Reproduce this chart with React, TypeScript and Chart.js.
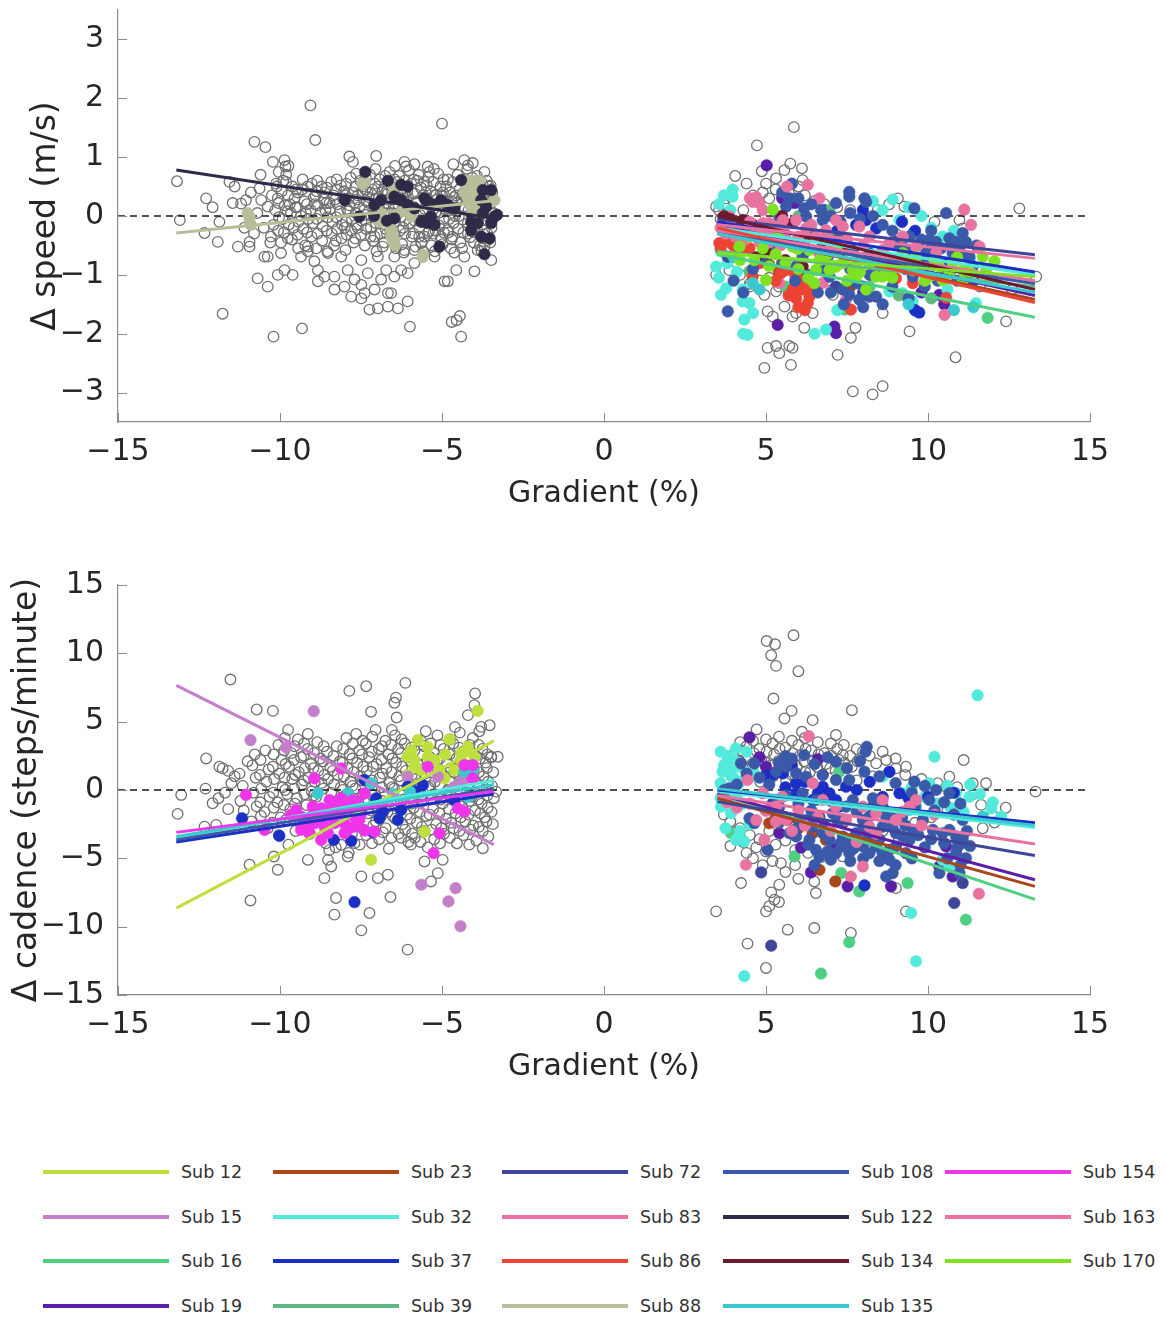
import React, { useEffect, useRef } from "react";
import { Chart, registerables } from "chart.js";

Chart.register(...registerables);

const FONT = "'DejaVu Sans', sans-serif";

const subjectIds = ["12", "15", "16", "19", "23", "32", "37", "39", "72", "83", "86", "88", "108", "122", "134", "135", "154", "163", "170"];
const subjectColors = ["#bde03f", "#c47fca", "#4fcf82", "#5a1ea8", "#a9461c", "#52eada", "#1b2fc4", "#62b883", "#3d4699", "#ec70a4", "#ec4434", "#b6bf99", "#3a59a8", "#2f2a48", "#6c1a2e", "#3ac9cf", "#ef35ea", "#e873a0", "#7ee222"];

const gradientTicks = [-15, -10, -5, 0, 5, 10, 15];
const speedTicks = [-3, -2, -1, 0, 1, 2, 3];
const cadenceTicks = [-15, -10, -5, 0, 5, 10, 15];
const downhillFitRange = [-13.2, -3.4];
const uphillFitRange = [3.5, 13.3];

// ---------- Δ speed: all runners (open circles) ----------
const speedGrey: [number, number][] = [
  [-9.06, 1.88], [-5.0, 1.57], [-8.91, 1.29], [-10.79, 1.26], [-10.45, 1.17], [-13.18, 0.59], [-13.09, -0.07], [-11.77, -1.66], [-10.2, -2.05], [-9.32, -1.91], [-4.41, -2.05], [-5.99, -1.88], [-4.7, -1.8], [-4.55, -1.77], [-4.45, -1.7],
  [-9.86, 0.95], [-9.83, 0.84], [-10.22, 0.92], [-7.86, 1.01], [-7.03, 1.02], [-7.75, 0.92], [-6.16, 0.92], [-6.11, 0.84], [-4.31, 0.95], [-4.2, 0.86], [-5.44, 0.84], [-5.39, 0.75], [-3.69, 0.75],
  [-12.28, 0.3], [-12.08, 0.15], [-11.56, 0.58], [-11.46, 0.22], [-11.87, -0.1], [-12.33, -0.29], [-11.92, -0.44], [-11.2, 0.21], [-11.05, 0.27], [-10.94, -0.44], [-10.94, -0.52], [-11.3, -0.52], [-10.63, 0.47], [-10.58, 0.27], [-10.38, 0.16], [-10.48, -0.69], [-10.07, 0.3], [-10.12, 0.55], [-9.81, 0.7], [-9.81, 0.58],
  [-10.38, -0.69], [-9.97, -0.63], [-9.86, -0.92], [-9.61, -1.0], [-10.07, -1.0], [-10.69, -1.06], [-10.38, -1.2], [-9.35, -0.69], [-9.14, -0.52], [-8.94, -0.77], [-8.83, -0.92], [-8.63, -1.03], [-8.32, -1.03], [-8.52, -0.63], [-8.11, -0.69], [-7.91, -0.92], [-7.7, -1.08], [-7.49, -1.17], [-7.39, -1.31], [-7.08, -1.25], [-6.88, -1.08], [-6.72, -0.92], [-6.57, -1.31], [-6.47, -1.03], [-6.26, -0.92], [-6.06, -0.97], [-5.85, -0.8], [-8.83, -1.11], [-8.32, -1.25], [-8.01, -1.2], [-7.8, -1.37], [-7.49, -1.4], [-7.24, -1.59], [-6.98, -1.57], [-6.67, -1.54], [-6.36, -1.57], [-6.06, -1.45], [-6.67, -1.31], [-7.29, -0.97], [-7.49, -0.75], [-6.98, -0.69], [-6.47, -0.69], [-6.16, -0.58], [-5.85, -0.58], [-5.64, -0.46], [-5.23, -0.69], [-4.92, -1.11], [-4.82, -1.11], [-4.56, -0.92], [-4.0, -0.94], [-4.31, -0.69], [-3.9, -0.58], [-3.48, -0.75], [-5.03, -0.35], [-5.44, -0.29], [-4.82, -0.24], [-3.69, -0.52], [-3.59, -0.41],
  [-10.25, 0.35], [-10.15, 0.1], [-10.2, -0.15], [-10.28, -0.35], [-10.1, 0.5],
  [-9.95, 0.42], [-9.85, 0.18], [-9.92, -0.05], [-9.88, -0.28], [-9.97, -0.45], [-9.9, 0.6],
  [-9.62, 0.5], [-9.55, 0.3], [-9.66, 0.05], [-9.58, -0.2], [-9.63, -0.4], [-9.52, 0.15],
  [-9.32, 0.45], [-9.25, 0.25], [-9.35, 0.0], [-9.28, -0.22], [-9.22, -0.5], [-9.3, 0.62],
  [-9.02, 0.55], [-8.95, 0.32], [-9.05, 0.1], [-8.98, -0.12], [-9.03, -0.35], [-8.92, 0.2],
  [-8.72, 0.5], [-8.65, 0.28], [-8.75, 0.05], [-8.68, -0.18], [-8.7, -0.42], [-8.62, 0.4],
  [-8.42, 0.58], [-8.35, 0.35], [-8.45, 0.12], [-8.38, -0.1], [-8.4, -0.3], [-8.33, -0.5], [-8.47, 0.22],
  [-8.12, 0.52], [-8.05, 0.3], [-8.15, 0.08], [-8.08, -0.15], [-8.1, -0.38], [-8.02, 0.42],
  [-7.82, 0.65], [-7.75, 0.4], [-7.85, 0.18], [-7.78, -0.05], [-7.8, -0.25], [-7.73, -0.45], [-7.88, 0.3],
  [-7.52, 0.6], [-7.45, 0.38], [-7.55, 0.15], [-7.48, -0.08], [-7.5, -0.32], [-7.43, 0.5],
  [-7.22, 0.7], [-7.15, 0.45], [-7.25, 0.22], [-7.18, 0.0], [-7.2, -0.2], [-7.13, -0.42], [-7.27, 0.32],
  [-6.92, 0.62], [-6.85, 0.4], [-6.95, 0.16], [-6.88, -0.06], [-6.9, -0.3], [-6.83, -0.52], [-6.97, 0.5],
  [-6.62, 0.75], [-6.55, 0.5], [-6.65, 0.28], [-6.58, 0.05], [-6.6, -0.15], [-6.53, -0.38], [-6.67, 0.38],
  [-6.32, 0.68], [-6.25, 0.45], [-6.35, 0.2], [-6.28, -0.02], [-6.3, -0.25], [-6.23, -0.48], [-6.37, 0.58],
  [-6.02, 0.78], [-5.95, 0.55], [-6.05, 0.32], [-5.98, 0.1], [-6.0, -0.12], [-5.93, -0.35], [-6.07, 0.42],
  [-5.72, 0.7], [-5.65, 0.48], [-5.75, 0.25], [-5.68, 0.02], [-5.7, -0.2], [-5.63, -0.45], [-5.77, 0.6],
  [-5.42, 0.66], [-5.35, 0.42], [-5.45, 0.2], [-5.38, -0.04], [-5.4, -0.26], [-5.33, -0.5], [-5.47, 0.52],
  [-5.12, 0.72], [-5.05, 0.5], [-5.15, 0.28], [-5.08, 0.06], [-5.1, -0.16], [-5.03, -0.4], [-5.17, 0.36],
  [-4.82, 0.62], [-4.75, 0.4], [-4.85, 0.18], [-4.78, -0.05], [-4.8, -0.28], [-4.73, -0.55], [-4.87, 0.5],
  [-4.52, 0.7], [-4.45, 0.46], [-4.55, 0.22], [-4.48, 0.0], [-4.5, -0.22], [-4.43, -0.45], [-4.57, 0.35],
  [-4.22, 0.8], [-4.15, 0.56], [-4.25, 0.32], [-4.18, 0.1], [-4.2, -0.12], [-4.13, -0.36], [-4.27, 0.45],
  [-3.92, 0.68], [-3.85, 0.44], [-3.95, 0.2], [-3.88, -0.03], [-3.9, -0.25], [-3.83, -0.5], [-3.97, 0.55],
  [-3.62, 0.6], [-3.55, 0.36], [-3.65, 0.14], [-3.58, -0.08], [-3.6, -0.3], [-3.67, 0.25],
  [-3.45, 0.4], [-3.42, 0.05], [-3.47, -0.2],
  [-10.05, 0.22], [-10.03, -0.02], [-10.06, -0.25], [-10.04, 0.75],
  [-9.75, 0.35], [-9.77, 0.08], [-9.73, -0.15], [-9.76, -0.38], [-9.74, 0.85],
  [-9.45, 0.4], [-9.47, 0.15], [-9.43, -0.1], [-9.46, -0.32], [-9.44, -0.55],
  [-9.15, 0.5], [-9.17, 0.2], [-9.13, -0.05], [-9.16, -0.28], [-9.14, -0.6],
  [-8.85, 0.6], [-8.87, 0.42], [-8.83, 0.18], [-8.86, -0.05], [-8.84, -0.3], [-8.88, -0.55],
  [-8.55, 0.48], [-8.57, 0.22], [-8.53, -0.02], [-8.56, -0.25], [-8.54, -0.6],
  [-8.25, 0.62], [-8.27, 0.45], [-8.23, 0.2], [-8.26, -0.02], [-8.24, -0.22], [-8.28, -0.42],
  [-7.95, 0.55], [-7.97, 0.35], [-7.93, 0.12], [-7.96, -0.1], [-7.94, -0.32], [-7.98, -0.58],
  [-7.65, 0.72], [-7.67, 0.5], [-7.63, 0.28], [-7.66, 0.05], [-7.64, -0.15], [-7.68, -0.38],
  [-7.35, 0.65], [-7.37, 0.45], [-7.33, 0.25], [-7.36, 0.02], [-7.34, -0.22], [-7.38, -0.5],
  [-7.05, 0.8], [-7.07, 0.55], [-7.03, 0.3], [-7.06, 0.1], [-7.04, -0.12], [-7.08, -0.35], [-7.02, -0.6],
  [-6.75, 0.68], [-6.77, 0.45], [-6.73, 0.22], [-6.76, 0.0], [-6.74, -0.22], [-6.78, -0.45],
  [-6.45, 0.85], [-6.47, 0.62], [-6.43, 0.35], [-6.46, 0.12], [-6.44, -0.1], [-6.48, -0.32], [-6.42, -0.55],
  [-6.15, 0.6], [-6.17, 0.38], [-6.13, 0.15], [-6.16, -0.08], [-6.14, -0.3], [-6.18, -0.62],
  [-5.85, 0.88], [-5.87, 0.62], [-5.83, 0.38], [-5.86, 0.15], [-5.84, -0.08], [-5.88, -0.3], [-5.82, -0.52],
  [-5.55, 0.58], [-5.57, 0.35], [-5.53, 0.12], [-5.56, -0.1], [-5.54, -0.35], [-5.58, -0.6],
  [-5.25, 0.8], [-5.27, 0.58], [-5.23, 0.35], [-5.26, 0.12], [-5.24, -0.08], [-5.28, -0.3], [-5.22, -0.6],
  [-4.95, 0.62], [-4.97, 0.4], [-4.93, 0.18], [-4.96, -0.05], [-4.94, -0.28], [-4.98, -0.48],
  [-4.65, 0.88], [-4.67, 0.58], [-4.63, 0.32], [-4.66, 0.1], [-4.64, -0.12], [-4.68, -0.35], [-4.62, -0.62],
  [-4.35, 0.62], [-4.37, 0.38], [-4.33, 0.16], [-4.36, -0.06], [-4.34, -0.28], [-4.38, -0.55],
  [-4.05, 0.9], [-4.07, 0.65], [-4.03, 0.4], [-4.06, 0.18], [-4.04, -0.04], [-4.08, -0.26], [-4.02, -0.45],
  [-3.75, 0.55], [-3.77, 0.3], [-3.73, 0.08], [-3.76, -0.15], [-3.74, -0.38], [-3.78, -0.6],
  [-3.5, 0.52], [-3.52, 0.2], [-3.48, -0.1], [-3.51, -0.45],
  [-10.9, 0.4], [-10.7, 0.05], [-10.5, -0.2], [-10.8, -0.3], [-11.1, -0.2], [-10.6, 0.7], [-11.4, 0.5], [-10.3, -0.45],
  [-7.9, 0.08], [-7.7, 0.22], [-7.6, 0.35], [-7.4, 0.1], [-7.3, 0.4], [-7.1, 0.18], [-6.95, 0.3], [-6.8, 0.05], [-6.7, 0.42], [-6.5, 0.2], [-6.4, 0.02], [-6.2, 0.3], [-6.1, 0.12], [-5.9, 0.38], [-5.8, 0.22], [-5.6, 0.1], [-5.5, 0.4], [-5.3, 0.2], [-5.2, 0.05], [-5.0, 0.35], [-4.9, 0.12], [-4.7, 0.25], [-4.6, 0.0], [-4.4, 0.3], [-4.3, 0.12], [-4.1, 0.42], [-3.95, 0.05], [-3.8, 0.3], [-3.7, 0.12], [-3.55, 0.5],
  [-8.3, 0.28], [-8.6, 0.1], [-8.9, 0.35], [-9.2, 0.05], [-9.5, 0.45], [-9.7, 0.2], [-8.0, -0.2], [-7.6, -0.2], [-7.2, -0.35], [-6.7, -0.3], [-6.2, -0.2], [-5.7, -0.35], [-5.2, -0.25], [-4.7, -0.4], [-4.2, -0.3], [-3.7, -0.25],
  [5.86, 1.51], [4.72, 1.2], [4.05, 0.68], [4.87, 0.76], [5.31, 0.64], [5.57, 0.78], [5.75, 0.89], [6.11, 0.81], [6.13, 0.61], [3.46, 0.16], [3.77, 0.3], [9.07, 0.3], [9.27, 0.16], [12.82, 0.13], [13.34, -1.03], [3.46, -1.0], [3.87, -0.92], [4.49, -1.2], [4.95, -1.34], [5.05, -1.62], [5.21, -1.71], [5.57, -1.54], [5.93, -1.65], [5.82, -1.71], [6.44, -1.65], [5.31, -1.28], [5.05, -2.24], [5.31, -2.21], [5.41, -2.33], [5.72, -2.21], [5.82, -2.24], [5.77, -2.53], [4.95, -2.58], [6.18, -1.9], [7.06, -1.34], [7.62, -2.07], [7.76, -1.9], [7.21, -2.36], [8.6, -1.65], [9.43, -1.96], [10.85, -2.4], [7.68, -2.98], [8.29, -3.03], [8.6, -2.89], [12.41, -1.79], [8.45, 0.1], [10.97, -0.07], [11.07, -0.21],
  [3.55, 0.1], [3.7, 0.2], [3.6, -0.05], [4.6, 0.35], [4.9, 0.4], [5.1, 0.3], [5.3, 0.45], [5.5, 0.35], [5.7, 0.4], [5.9, 0.3], [6.2, 0.35], [6.5, 0.25], [6.8, 0.2], [7.2, 0.15], [7.6, 0.1], [4.2, -1.0], [4.5, -1.15], [4.8, -1.1], [5.1, -1.05], [5.4, -1.2], [5.7, -1.3], [6.1, -1.15], [6.5, -1.25], [6.9, -1.1], [4.4, 0.55], [5.0, 0.55], [6.0, 0.5], [4.3, 0.1], [5.2, -0.6], [6.0, -0.8], [7.0, -0.5], [8.0, -0.6], [9.0, -0.3], [10.0, -0.9], [11.0, -1.0], [12.0, -1.1], [11.6, -1.2], [12.6, -1.25], [4.0, -0.5], [4.7, -0.3], [8.8, 0.2], [10.2, -0.1],
];

// ---------- Δ speed: highlighted runners [subject, gradient, value] ----------
const speedColored: [string, number, number][] = [
  ["88", -10.94, -0.01], ["88", -10.94, -0.1], ["88", -7.37, 0.58], ["88", -6.47, 0.47], ["88", -7.08, 0.02], ["88", -6.98, -0.07], ["88", -6.88, -0.1], ["88", -6.57, -0.24], ["88", -6.57, -0.35], ["88", -6.47, -0.41], ["88", -5.59, -0.66], ["88", -4.1, 0.44], ["88", -4.0, 0.38], ["88", -3.9, 0.5], ["88", -3.79, 0.3], ["88", -4.2, 0.3], ["88", -4.3, 0.4], ["88", -4.0, 0.25], ["88", -3.38, 0.27], ["88", -6.26, 0.07], ["88", -5.95, -0.01], ["88", -4.15, 0.55], ["88", -3.95, 0.15], ["88", -4.25, 0.5], ["88", -3.85, 0.6], ["88", -4.05, 0.1],
  ["88", -4.15, 0.2], ["88", -4.05, 0.35], ["88", -3.95, 0.45], ["88", -4.2, 0.6], ["88", -4.05, 0.6], ["88", -3.9, 0.35], ["88", -6.6, -0.15], ["88", -6.55, -0.3], ["88", -6.5, -0.45], ["88", -6.45, -0.5], ["88", -7.0, 0.1], ["88", -6.9, 0.05], ["88", -7.45, 0.55], ["88", -6.5, 0.35], ["88", -5.6, -0.7], ["88", -11.0, 0.05], ["88", -10.9, -0.15],
  ["122", -7.37, 0.75], ["122", -6.67, 0.6], ["122", -6.26, 0.53], ["122", -6.06, 0.5], ["122", -6.88, 0.27], ["122", -7.08, 0.19], ["122", -6.47, 0.33], ["122", -6.26, 0.27], ["122", -6.06, 0.19], ["122", -5.85, 0.13], ["122", -5.54, 0.3], ["122", -5.44, 0.24], ["122", -5.23, 0.19], ["122", -5.03, 0.27], ["122", -4.82, 0.19], ["122", -4.62, 0.13], ["122", -5.64, -0.1], ["122", -5.44, -0.12], ["122", -5.23, -0.15], ["122", -5.34, -0.01], ["122", -4.41, 0.61], ["122", -3.74, 0.44], ["122", -3.48, 0.44], ["122", -3.79, 0.27], ["122", -3.64, 0.16], ["122", -3.38, -0.01], ["122", -3.3, 0.02], ["122", -3.48, -0.12], ["122", -4.1, -0.24], ["122", -3.79, -0.35], ["122", -3.53, -0.38], ["122", -3.69, -0.65], ["122", -5.08, -0.52], ["122", -7.55, -0.01], ["122", -6.47, -0.04], ["122", -4.1, -0.1], ["122", -3.9, -0.12], ["122", -3.74, 0.05], ["122", -8.0, 0.27], ["122", -7.1, 0.0], ["122", -6.7, -0.08],
  ["108", 7.57, 0.41], ["108", 7.57, 0.33], ["108", 8.04, 0.3], ["108", 8.09, 0.24], ["108", 7.16, 0.22], ["108", 5.72, 0.3], ["108", 5.62, 0.16], ["108", 6.18, 0.13], ["108", 9.58, 0.13], ["108", 10.56, 0.05], ["108", 10.04, -0.41], ["108", 10.25, -0.44], ["108", 10.66, -0.38], ["108", 10.87, -0.44], ["108", 11.07, -0.29], ["108", 10.97, -0.52], ["108", 11.17, -0.44], ["108", 7.78, -1.14], ["108", 7.99, -1.2], ["108", 8.19, -1.37], ["108", 8.4, -1.37], ["108", 7.88, -1.42], ["108", 7.57, -1.34], ["108", 7.37, -1.25], ["108", 6.96, -1.03], ["108", 6.75, -0.92], ["108", 5.93, -0.86], ["108", 3.82, -1.62], ["108", 6.13, -0.69], ["108", 8.5, -0.92], ["108", 9.01, -0.75], ["108", 9.53, -1.03], ["108", 10.25, -0.75], ["108", 9.94, -0.63], ["108", 10.76, -0.63], ["108", 11.28, -0.69], ["108", 11.38, -0.86], ["108", 9.43, -0.35], ["108", 9.01, -0.46], ["108", 8.6, -0.63], ["108", 7.26, -0.35], ["108", 6.44, -0.29], ["108", 5.41, -0.01], ["108", 5.21, -0.18], ["108", 6.24, -0.01], ["108", 6.75, -0.07], ["108", 7.68, -0.58], ["108", 8.19, -0.63], ["108", 10.04, -0.58],
  ["108", 5.5, 0.4], ["108", 5.8, 0.55], ["108", 6.0, 0.3], ["108", 6.4, 0.2], ["108", 6.7, 0.1], ["108", 7.0, 0.0], ["108", 7.3, -0.1], ["108", 7.6, 0.05], ["108", 7.9, -0.05], ["108", 8.3, 0.0], ["108", 8.6, -0.15], ["108", 8.9, -0.25], ["108", 9.2, -0.5], ["108", 9.5, -0.6], ["108", 9.8, -0.4], ["108", 10.1, -0.25], ["108", 10.4, -0.55], ["108", 10.7, -0.5], ["108", 11.0, -0.65], ["108", 10.5, -0.95], ["108", 10.9, -1.1], ["108", 9.9, -1.2], ["108", 9.4, -1.4], ["108", 8.9, -1.2], ["108", 8.6, -1.5], ["108", 8.0, -1.55], ["108", 7.4, -1.5], ["108", 7.0, -1.3], ["108", 6.6, -1.3], ["108", 6.3, -1.0], ["108", 5.9, -1.1], ["108", 5.5, -0.8], ["108", 5.2, -0.5], ["108", 4.9, -0.7], ["108", 4.6, -0.9], ["108", 4.3, -1.3], ["108", 4.0, -1.1], ["108", 6.2, -0.6], ["108", 6.9, -0.7], ["108", 7.6, -0.9], ["108", 8.2, -1.0], ["108", 8.8, -0.9], ["108", 9.3, -0.9], ["108", 9.9, -0.8], ["108", 10.3, -1.1], ["108", 11.2, -0.9], ["108", 11.5, -0.5],
  ["170", 5.21, 0.11], ["170", 4.18, -0.52], ["170", 4.64, -0.75], ["170", 5.0, -1.09], ["170", 5.36, -0.35], ["170", 5.82, -0.52], ["170", 6.34, -0.58], ["170", 6.65, -0.75], ["170", 6.54, -0.92], ["170", 6.49, -1.14], ["170", 6.96, -0.92], ["170", 7.37, -0.8], ["170", 7.68, -0.92], ["170", 7.88, -0.75], ["170", 8.19, -0.8], ["170", 8.4, -1.03], ["170", 8.71, -0.8], ["170", 9.01, -0.86], ["170", 9.22, -0.63], ["170", 9.63, -0.69], ["170", 9.53, -0.92], ["170", 10.04, -1.03], ["170", 10.35, -0.86], ["170", 10.76, -0.8], ["170", 11.07, -0.92], ["170", 10.45, -1.09], ["170", 11.69, -0.69], ["170", 12.05, -0.77], ["170", 11.07, -1.11], ["170", 7.78, -1.03], ["170", 8.09, -1.25], ["170", 8.6, -1.03], ["170", 5.98, -0.56], ["170", 7.16, -0.86], ["170", 8.81, -0.97], ["170", 9.32, -0.77], ["170", 10.66, -0.97],
  ["170", 4.5, -0.35], ["170", 4.9, -0.55], ["170", 5.3, -0.65], ["170", 5.6, -0.8], ["170", 6.0, -0.9], ["170", 6.9, -0.65], ["170", 7.2, -0.6], ["170", 7.9, -0.95], ["170", 8.5, -0.7], ["170", 9.7, -0.85], ["170", 10.2, -0.75], ["170", 10.9, -0.7], ["170", 11.3, -0.95], ["170", 11.8, -0.9], ["170", 4.2, -0.75], ["170", 5.1, -0.85], ["170", 6.3, -1.05], ["170", 7.5, -1.1], ["170", 8.9, -1.05], ["170", 9.9, -1.1],
  ["32", 3.97, 0.45], ["32", 3.97, 0.33], ["32", 3.77, -1.23], ["32", 3.61, -1.34], ["32", 4.28, -1.25], ["32", 4.28, -1.45], ["32", 4.49, -1.48], ["32", 4.33, -1.76], ["32", 4.43, -2.02], ["32", 6.85, -1.93], ["32", 8.91, 0.28], ["32", 9.12, -0.07], ["32", 9.53, -0.29], ["32", 9.63, -0.35], ["32", 9.22, -1.31], ["32", 9.53, -1.45], ["32", 9.63, -1.62], ["32", 11.48, -1.48], ["32", 11.33, -1.03], ["32", 8.81, -1.28], ["32", 10.04, -0.58], ["32", 10.45, -0.35], ["32", 3.82, -0.35], ["32", 3.46, -0.86],
  ["32", 3.55, 0.2], ["32", 3.7, 0.35], ["32", 3.9, 0.1], ["32", 3.6, -0.6], ["32", 3.8, -0.8], ["32", 3.55, -1.05], ["32", 4.1, -0.95], ["32", 4.3, -2.0], ["32", 4.6, -1.65], ["32", 8.3, 0.25], ["32", 8.6, 0.1], ["32", 9.4, 0.15], ["32", 9.8, 0.0], ["32", 10.1, -0.2], ["32", 10.8, -0.25], ["32", 11.0, -0.5], ["32", 11.3, -0.75], ["32", 10.6, -1.25], ["32", 7.2, -1.6], ["32", 6.5, -2.0],
  ["163", 4.59, 0.24], ["163", 4.8, 0.22], ["163", 4.9, 0.1], ["163", 4.9, -0.12], ["163", 5.1, -0.12], ["163", 5.36, -0.18], ["163", 5.52, -0.07], ["163", 5.93, -0.07], ["163", 6.24, -0.21], ["163", 6.54, -0.35], ["163", 6.85, -0.24], ["163", 7.16, -0.07], ["163", 7.37, -0.18], ["163", 7.88, -0.18], ["163", 8.19, -0.35], ["163", 8.6, -0.58], ["163", 8.81, -0.46], ["163", 9.22, -0.35], ["163", 9.63, -0.52], ["163", 10.25, -0.63], ["163", 11.12, 0.11], ["163", 11.33, -0.15], ["163", 11.59, -0.52], ["163", 10.51, -1.68], ["163", 6.29, 0.53],
  ["163", 3.6, -0.2], ["163", 3.75, -0.3], ["163", 3.9, -0.15], ["163", 4.05, -0.35], ["163", 4.2, -0.25], ["163", 4.35, -0.4], ["163", 4.5, -0.1], ["163", 4.65, -0.3], ["163", 4.8, -0.45], ["163", 4.95, -0.3], ["163", 5.1, -0.45], ["163", 5.25, -0.35], ["163", 5.45, -0.5], ["163", 5.6, -0.3], ["163", 5.75, -0.45], ["163", 6.0, -0.35], ["163", 6.2, -0.5], ["163", 6.4, -0.15], ["163", 6.6, -0.6], ["163", 7.0, -0.55], ["163", 7.5, -0.4], ["163", 8.0, -0.5], ["163", 4.5, 0.3], ["163", 4.7, 0.32], ["163", 5.65, 0.5],
  ["83", 6.65, 0.3], ["83", 6.96, -0.41], ["83", 5.41, -1.14], ["83", 6.75, -1.14], ["83", 7.47, -1.42], ["83", 3.87, -0.01], ["83", 4.18, -0.18], ["83", 4.38, -0.24], ["83", 3.66, -0.12],
  ["86", 3.77, -0.44], ["86", 3.87, -0.38], ["86", 3.56, -0.46], ["86", 4.49, -0.55], ["86", 4.59, -1.03], ["86", 5.46, -0.97], ["86", 5.62, -0.92], ["86", 5.82, -1.25], ["86", 5.93, -1.4], ["86", 6.13, -1.11], ["86", 6.13, -1.25], ["86", 6.29, -1.48], ["86", 6.34, -1.37], ["86", 6.39, -1.25], ["86", 7.62, -1.59], ["86", 10.56, -1.39], ["86", 9.01, -1.06], ["86", 9.53, -1.14],
  ["86", 3.6, -0.55], ["86", 4.0, -0.5], ["86", 4.2, -0.6], ["86", 4.8, -0.8], ["86", 5.3, -1.1], ["86", 5.9, -1.0], ["86", 6.0, -1.55], ["86", 6.2, -1.6], ["86", 5.7, -1.35],
  ["134", 4.28, -0.07], ["134", 4.38, -0.12], ["134", 4.9, -0.27], ["134", 5.82, -0.12], ["134", 6.24, -0.35], ["134", 6.75, -0.46], ["134", 7.37, -0.58], ["134", 8.4, -0.69], ["134", 5.1, -0.83], ["134", 6.13, -0.86],
  ["134", 3.7, 0.0], ["134", 3.9, -0.05], ["134", 4.1, -0.1], ["134", 4.6, -0.15], ["134", 5.3, -0.2], ["134", 5.5, 0.0], ["134", 5.0, -0.6], ["134", 4.7, -0.7], ["134", 5.6, -0.75],
  ["19", 5.02, 0.86], ["19", 5.88, 0.22], ["19", 5.36, -1.85], ["19", 7.11, -1.88], ["19", 7.16, -1.99], ["19", 10.35, -1.34], ["19", 5.5, 0.3], ["19", 8.0, -1.3], ["19", 10.5, -1.5], ["19", 9.8, -1.3], ["19", 11.4, -1.1],
  ["37", 7.99, 0.1], ["37", 8.09, -0.07], ["37", 7.78, -0.15], ["37", 8.4, -0.21], ["37", 9.73, -1.64], ["37", 9.01, -0.44], ["37", 6.8, 0.1], ["37", 7.2, -0.25], ["37", 9.2, -0.1], ["37", 9.6, -0.25], ["37", 10.6, -0.8], ["37", 11.2, -1.0], ["37", 9.6, -1.6],
  ["16", 11.84, -1.73], ["16", 7.42, -1.59], ["16", 5.6, -1.2], ["16", 8.2, -1.2],
  ["39", 6.96, 0.1], ["39", 4.49, -0.94], ["39", 6.0, 0.0], ["39", 7.0, -0.35], ["39", 9.1, -1.35], ["39", 10.1, -1.4],
  ["23", 5.4, -0.95], ["23", 6.2, -1.05], ["23", 7.6, -1.2],
  ["72", 3.82, -0.69], ["72", 7.16, -1.2],
  ["135", 4.59, -1.14], ["135", 4.0, -0.7], ["135", 4.8, -1.25], ["135", 9.4, -1.5], ["135", 10.8, -1.6], ["135", 11.4, -1.55],
];

// ---------- Δ speed: regression lines [subject, value at start, value at end] ----------
const speedFitsDown: [string, number, number][] = [
  ["88", -0.29, 0.26],
  ["122", 0.78, -0.04],
];
const speedFitsUp: [string, number, number][] = [
  ["72", -0.05, -0.66], ["163", -0.15, -0.72], ["37", -0.1, -0.95], ["32", -0.2, -1.0], ["170", -0.63, -1.03], ["83", -0.25, -1.1], ["108", -0.3, -1.15], ["39", -0.6, -1.2], ["134", 0.0, -1.25], ["135", -0.3, -1.3], ["19", -0.15, -1.35], ["23", -0.25, -1.42], ["86", -0.2, -1.47], ["16", -0.65, -1.72],
];

// ---------- Δ cadence: all runners (open circles) ----------
const cadenceGrey: [number, number][] = [
  [-11.53, 8.08], [-10.72, 5.89], [-10.22, 5.79], [-7.86, 7.25], [-7.34, 7.59], [-6.13, 7.84], [-6.42, 6.76], [-6.47, 6.38], [-7.19, 5.72], [-6.4, 5.3], [-3.98, 7.06], [-4.0, 6.21], [-4.2, 5.48], [-12.28, 2.31], [-11.87, 1.7], [-11.77, 1.58], [-13.05, -0.36], [-13.16, -1.75], [-12.33, -2.68], [-11.97, -2.55], [-12.08, -0.97], [-10.94, -5.47], [-10.07, -5.84], [-10.91, -8.08], [-10.19, -4.87], [-9.14, -5.11], [-8.63, -6.45], [-8.27, -7.9], [-8.32, -9.12], [-7.49, -10.27], [-7.24, -9.0], [-7.49, -6.32], [-6.98, -6.45], [-6.67, -6.2], [-6.59, -7.83], [-6.06, -11.68], [-5.34, -6.69], [-5.13, -6.08], [-4.98, -5.11], [-5.54, -5.23], [-3.74, -4.26], [-3.53, 4.74], [-3.79, 4.62], [-3.48, 2.43], [-3.28, 2.43], [-3.33, -0.12], [-7.7, -3.89], [-8.11, -4.01], [-7.91, -4.87], [-8.52, -5.11], [-8.42, -5.6],
  [-11.6, 1.4], [-11.4, 1.0], [-12.3, 0.1], [-11.9, -0.6],
  [-11.25, 1.2], [-11.15, 0.3], [-11.22, -0.8], [-11.12, -1.5],
  [-10.85, 1.8], [-10.75, 0.9], [-10.82, -0.2], [-10.72, -1.2], [-10.88, -2.3], [-10.78, 2.6],
  [-10.45, 2.9], [-10.35, 1.5], [-10.42, 0.6], [-10.32, -0.5], [-10.48, -1.6], [-10.38, -2.8],
  [-10.05, 3.3], [-9.95, 2.2], [-10.02, 1.2], [-9.92, 0.2], [-10.08, -0.9], [-9.98, -2.0], [-10.04, -3.3],
  [-9.75, 4.4], [-9.65, 2.7], [-9.72, 1.7], [-9.62, 0.8], [-9.78, -0.3], [-9.68, -1.4], [-9.74, -4.0],
  [-9.45, 3.7], [-9.35, 2.4], [-9.42, 1.3], [-9.32, 0.4], [-9.48, -0.6], [-9.38, -2.4],
  [-9.15, 3.0], [-9.05, 1.9], [-9.12, 0.9], [-9.02, -0.1], [-9.18, -1.1], [-9.08, -3.2], [-9.14, 4.1],
  [-8.85, 3.5], [-8.75, 2.3], [-8.82, 1.4], [-8.72, 0.5], [-8.88, -0.5],
  [-8.55, 2.8], [-8.45, 1.7], [-8.52, 0.8], [-8.42, -0.2], [-8.58, -3.9], [-8.48, -4.4],
  [-8.25, 3.2], [-8.15, 2.1], [-8.22, 1.1], [-8.12, 0.2], [-8.28, -4.2],
  [-7.95, 3.8], [-7.85, 2.6], [-7.92, 1.6], [-7.82, 0.6], [-7.98, -0.4], [-7.88, -4.6],
  [-7.65, 4.1], [-7.55, 2.9], [-7.62, 2.0], [-7.52, 1.0], [-7.68, 0.1], [-7.58, -0.9], [-7.64, -2.5], [-7.54, -4.0],
  [-7.35, 3.4], [-7.25, 2.4], [-7.32, 1.4], [-7.22, 0.4], [-7.38, -0.6], [-7.28, -1.7], [-7.34, -3.3],
  [-7.05, 4.4], [-6.95, 3.0], [-7.02, 1.9], [-6.92, 0.9], [-7.08, -0.1], [-6.98, -1.2], [-7.04, -2.3], [-6.94, -3.6],
  [-6.75, 3.6], [-6.65, 2.6], [-6.72, 1.6], [-6.62, 0.5], [-6.78, -0.5], [-6.68, -1.6], [-6.74, -2.8], [-6.64, -4.3],
  [-6.45, 4.0], [-6.35, 3.0], [-6.42, 2.0], [-6.32, 1.0], [-6.48, 0.1], [-6.38, -1.0], [-6.44, -2.1], [-6.34, -3.2],
  [-6.15, 3.4], [-6.05, 2.4], [-6.12, 1.4], [-6.02, 0.4], [-6.18, -0.7], [-6.08, -1.8], [-6.14, -2.9], [-6.04, -3.8],
  [-5.85, 2.9], [-5.75, 1.9], [-5.82, 0.8], [-5.72, -0.2], [-5.88, -1.3], [-5.78, -2.4], [-5.84, -3.5],
  [-5.55, 3.2], [-5.45, 2.2], [-5.52, 1.2], [-5.42, 0.2], [-5.58, -0.8], [-5.48, -1.9], [-5.54, -3.0], [-5.44, -4.2], [-5.5, 4.3],
  [-5.25, 2.7], [-5.15, 1.6], [-5.22, 0.6], [-5.12, -0.4], [-5.28, -1.4], [-5.18, -2.5], [-5.24, -3.6], [-5.14, 4.0],
  [-4.95, 3.0], [-4.85, 2.0], [-4.92, 1.0], [-4.82, 0.0], [-4.98, -1.0], [-4.88, -2.1], [-4.94, -3.2],
  [-4.65, 3.4], [-4.55, 2.3], [-4.62, 1.3], [-4.52, 0.3], [-4.68, -0.7], [-4.58, -1.7], [-4.64, -2.8], [-4.54, -3.9], [-4.6, 4.6],
  [-4.35, 2.8], [-4.25, 1.8], [-4.32, 0.8], [-4.22, -0.2], [-4.38, -1.2], [-4.28, -2.3], [-4.34, -3.3],
  [-4.05, 3.8], [-3.95, 2.5], [-4.02, 1.5], [-3.92, 0.5], [-4.08, -0.5], [-3.98, -1.5], [-4.04, -2.6], [-3.94, -3.7],
  [-3.75, 3.0], [-3.65, 2.0], [-3.72, 1.0], [-3.62, 0.0], [-3.78, -1.0], [-3.68, -2.0], [-3.74, -3.0],
  [-3.48, 2.4], [-3.42, 1.3], [-3.46, 0.3], [-3.4, -0.6], [-3.47, -1.6], [-3.43, -2.5],
  [-10.6, 2.2], [-10.62, 1.1], [-10.58, 0.1], [-10.61, -0.9], [-10.59, -1.9],
  [-10.2, 2.6], [-10.22, 1.7], [-10.18, 0.8], [-10.21, -0.2], [-10.19, -1.3], [-10.23, -2.4],
  [-9.85, 3.8], [-9.87, 2.9], [-9.83, 1.9], [-9.86, 0.9], [-9.84, 0.0], [-9.88, -1.1], [-9.82, -2.2],
  [-9.55, 3.2], [-9.57, 2.2], [-9.53, 1.1], [-9.56, 0.1], [-9.54, -1.0], [-9.58, -1.9], [-9.52, -3.0],
  [-9.25, 3.4], [-9.27, 2.5], [-9.23, 1.6], [-9.26, 0.7], [-9.24, -0.3],
  [-8.95, 2.7], [-8.97, 1.6], [-8.93, 0.6], [-8.96, -0.4],
  [-8.65, 3.2], [-8.67, 2.1], [-8.63, 1.1], [-8.66, 0.1],
  [-8.35, 2.5], [-8.37, 1.4], [-8.33, 0.4],
  [-8.05, 3.0], [-8.07, 2.0], [-8.03, 1.0], [-8.06, 0.0],
  [-7.75, 3.4], [-7.77, 2.3], [-7.73, 1.3], [-7.76, 0.3], [-7.74, -0.6], [-7.78, -3.2],
  [-7.45, 3.6], [-7.47, 2.6], [-7.43, 1.7], [-7.46, 0.7], [-7.44, -0.3], [-7.48, -1.3], [-7.42, -2.9],
  [-7.15, 3.9], [-7.17, 2.8], [-7.13, 1.7], [-7.16, 0.7], [-7.14, -0.4], [-7.18, -1.5], [-7.12, -2.6], [-7.16, -3.9],
  [-6.85, 3.2], [-6.87, 2.2], [-6.83, 1.2], [-6.86, 0.2], [-6.84, -0.8], [-6.88, -1.9], [-6.82, -3.1],
  [-6.55, 4.4], [-6.57, 3.3], [-6.53, 2.3], [-6.56, 1.3], [-6.54, 0.2], [-6.58, -0.8], [-6.52, -1.9], [-6.56, -3.5],
  [-6.25, 3.7], [-6.27, 2.7], [-6.23, 1.7], [-6.26, 0.7], [-6.24, -0.4], [-6.28, -1.4], [-6.22, -2.5], [-6.26, -3.5],
  [-5.95, 3.1], [-5.97, 2.1], [-5.93, 1.1], [-5.96, 0.1], [-5.94, -1.0], [-5.98, -2.1], [-5.92, -3.2], [-5.96, -4.0],
  [-5.65, 3.6], [-5.67, 2.6], [-5.63, 1.5], [-5.66, 0.5], [-5.64, -0.5], [-5.68, -1.6], [-5.62, -2.7], [-5.66, -3.8],
  [-5.35, 3.4], [-5.37, 2.4], [-5.33, 1.3], [-5.36, 0.3], [-5.34, -0.7], [-5.38, -1.8], [-5.32, -2.9],
  [-5.05, 3.3], [-5.07, 2.3], [-5.03, 1.3], [-5.06, 0.3], [-5.04, -0.7], [-5.08, -1.7], [-5.02, -2.8], [-5.06, -3.9],
  [-4.75, 3.7], [-4.77, 2.6], [-4.73, 1.6], [-4.76, 0.6], [-4.74, -0.4], [-4.78, -1.4], [-4.72, -2.4], [-4.76, -3.5],
  [-4.45, 4.2], [-4.47, 3.1], [-4.43, 2.1], [-4.46, 1.1], [-4.44, 0.0], [-4.48, -1.0], [-4.42, -2.0], [-4.46, -3.0],
  [-4.15, 3.3], [-4.17, 2.2], [-4.13, 1.2], [-4.16, 0.2], [-4.14, -0.8], [-4.18, -1.8], [-4.12, -2.9], [-4.16, -4.0],
  [-3.85, 4.3], [-3.87, 3.3], [-3.83, 2.3], [-3.86, 1.3], [-3.84, 0.3], [-3.88, -0.7], [-3.82, -1.7], [-3.86, -2.7],
  [-3.6, 2.6], [-3.62, 1.6], [-3.58, 0.6], [-3.61, -0.4], [-3.59, -1.3], [-3.63, -2.3], [-3.57, -3.4],
  [-11.5, 0.5], [-11.7, -0.2], [-11.0, 2.1], [-11.6, -1.4],
  [5.85, 11.32], [5.02, 10.9], [5.28, 10.66], [5.16, 9.86], [5.31, 9.08], [6.0, 8.69], [5.23, 6.69], [5.79, 5.79], [5.57, 5.23], [6.44, 5.11], [7.65, 5.84], [4.71, 4.43], [6.11, 4.26], [7.16, 4.02], [11.1, 2.19], [13.32, -0.12], [3.46, -8.88], [4.23, -6.81], [5.0, -8.88], [5.26, -8.03], [5.16, -7.49], [5.41, -6.93], [5.67, -10.22], [6.49, -10.1], [4.43, -11.24], [5.0, -13.02], [7.62, -10.46], [9.32, -8.88], [9.01, -7.18], [6.54, -7.54], [6.49, -6.69], [7.37, -4.86], [5.46, -5.35], [11.64, -1.09], [12.05, -2.38], [11.69, -2.8], [11.79, 0.49], [11.38, 0.49], [10.66, 0.97], [10.56, 0.24], [8.71, 2.19], [9.32, 1.7], [9.01, 1.58], [7.99, 2.8], [8.4, 1.95], [7.37, 2.56],
  [4.0, 2.6], [4.05, 1.8], [3.95, 1.0], [4.4, 3.2], [4.45, 2.4], [4.35, 1.6], [4.42, 0.8], [4.8, 3.0], [4.85, 2.2], [4.75, 1.4], [4.82, 0.6], [5.2, 3.4], [5.25, 2.6], [5.15, 1.8], [5.22, 1.0], [5.6, 3.1], [5.65, 2.3], [5.55, 1.5], [5.62, 0.7], [6.0, 3.3], [6.05, 2.5], [5.95, 1.7], [6.02, 0.9], [6.4, 2.9], [6.45, 2.1], [6.35, 1.3], [6.8, 2.7], [6.85, 1.9], [6.75, 1.1], [7.2, 3.0], [7.25, 2.2], [7.15, 1.4], [7.6, 2.5], [7.65, 1.7],
  [4.2, 3.5], [4.22, 2.9], [4.18, 2.1], [4.21, 1.3], [4.6, 3.6], [4.62, 2.7], [4.58, 1.9], [4.61, 1.1], [5.0, 3.7], [5.02, 2.8], [4.98, 2.0], [5.01, 1.2], [5.4, 3.9], [5.42, 3.0], [5.38, 2.1], [5.41, 1.3], [5.8, 3.6], [5.82, 2.7], [5.78, 1.9], [5.81, 1.1], [6.2, 3.8], [6.22, 3.0], [6.18, 2.1], [6.21, 1.3], [6.6, 3.5], [6.62, 2.6], [6.58, 1.7], [7.0, 3.4], [7.02, 2.5], [6.98, 1.6], [7.4, 3.3], [7.42, 2.0], [7.8, 3.0], [7.82, 2.1], [8.2, 2.5], [8.6, 2.8], [9.0, 2.3],
  [3.9, -2.3], [4.2, -2.8], [4.5, -3.3], [4.8, -3.6], [5.1, -3.0], [4.3, -3.8], [4.7, -4.2], [5.0, -4.5], [5.3, -4.0], [3.7, -1.8], [4.0, -3.1], [5.6, -3.7], [5.9, -4.4], [6.3, -4.6], [6.7, -4.9], [7.1, -4.3], [7.6, -3.8], [8.1, -3.4], [8.6, -3.0], [9.1, -3.6], [9.6, -2.4], [10.1, -2.0], [10.6, -1.5], [11.0, -1.2], [11.4, -0.3], [10.9, 0.2], [10.3, 0.5], [9.8, 0.8], [9.3, 1.1], [8.8, 1.3], [8.3, 1.0], [7.8, 0.7], [12.0, -1.9], [12.4, -1.3],
  [4.6, -5.0], [4.9, -5.5], [5.2, -5.2], [4.4, -4.6], [5.6, -6.0], [5.9, -5.5], [6.0, -6.5], [3.9, -4.1], [5.4, -8.2], [5.1, -8.5],
];

// ---------- Δ cadence: highlighted runners [subject, gradient, value] ----------
const cadenceColored: [string, number, number][] = [
  ["12", -5.75, 3.65], ["12", -5.44, 3.16], ["12", -4.77, 3.7], ["12", -3.9, 5.79], ["12", -5.54, -3.04], ["12", -7.19, -5.11], ["12", -6.06, 2.43], ["12", -5.85, 2.19], ["12", -5.64, 1.46], ["12", -5.85, 1.7], ["12", -6.06, 1.1], ["12", -4.41, 2.68], ["12", -4.41, 2.19], ["12", -4.92, 0.85], ["12", -5.08, 1.46], ["12", -4.62, 1.46], ["12", -4.2, 3.16], ["12", -5.44, 2.43], ["12", -5.23, 2.19], ["12", -5.95, 2.9], ["12", -4.9, 2.6], ["12", -4.0, 2.4],
  ["15", -8.96, 5.77], ["15", -10.91, 3.65], ["15", -9.81, 3.12], ["15", -5.64, -6.93], ["15", -4.58, -7.18], ["15", -4.8, -8.15], ["15", -4.43, -9.97], ["15", -6.06, 0.97], ["15", -5.13, 0.97], ["15", -4.36, 0.73], ["15", -4.62, 0.24],
  ["37", -11.17, -2.07], ["37", -10.02, -3.36], ["37", -8.34, -3.65], ["37", -7.8, -3.72], ["37", -7.13, -3.09], ["37", -7.7, -8.2], ["37", -6.93, -2.07], ["37", -6.36, -2.19], ["37", -6.06, 0.24], ["37", -5.59, 0.36], ["37", -5.85, -0.12], ["37", -6.26, -1.46], ["37", -6.83, -1.58], ["37", -7.39, 0.73], ["37", -7.03, -0.61], ["37", -4.62, -0.73],
  ["135", -7.19, 0.49], ["135", -5.99, -0.12], ["135", -4.31, 1.34], ["135", -4.05, 1.46], ["135", -8.83, -0.24], ["135", -7.9, -0.24], ["135", -4.2, -0.5], ["135", -6.5, -0.3],
  ["154", -9.66, -1.82], ["154", -9.5, -1.46], ["154", -9.35, -1.95], ["154", -9.25, -2.43], ["154", -9.14, -2.8], ["154", -9.04, -1.95], ["154", -8.99, -1.22], ["154", -8.83, -1.7], ["154", -8.73, -2.19], ["154", -8.63, -2.68], ["154", -8.52, -1.46], ["154", -8.47, -0.73], ["154", -8.42, -1.95], ["154", -8.32, -2.43], ["154", -8.22, -1.22], ["154", -8.11, -1.7], ["154", -8.01, -2.43], ["154", -7.91, -2.92], ["154", -7.8, -1.46], ["154", -7.75, -0.73], ["154", -7.7, -1.95], ["154", -7.6, -0.97], ["154", -7.55, -2.19], ["154", -7.49, -1.7], ["154", -7.91, -0.97], ["154", -8.11, -0.61], ["154", -8.32, -0.97], ["154", -8.73, -1.34], ["154", -8.94, -2.43], ["154", -9.35, -2.92], ["154", -9.09, -3.16], ["154", -8.52, -3.16], ["154", -8.01, -3.16], ["154", -7.7, -2.68], ["154", -7.39, -0.24],
  ["154", -8.94, 0.85], ["154", -8.11, 1.58], ["154", -5.44, 1.7], ["154", -5.08, -3.16], ["154", -5.26, -4.62], ["154", -4.31, 1.82], ["154", -4.05, 1.82], ["154", -4.05, 0.85], ["154", -4.51, -1.34], ["154", -4.31, -1.58], ["154", -11.05, -0.36], ["154", -10.48, -2.92], ["154", -8.73, -3.65], ["154", -7.39, -2.97], ["154", -7.08, -3.05],
  ["108", 5.6, 2.48], ["108", 6.18, 2.56], ["108", 7.16, 2.07], ["108", 8.11, 3.16], ["108", 8.07, 2.8], ["108", 8.04, 1.34], ["108", 7.57, 0.73], ["108", 7.16, 0.73], ["108", 6.75, 1.1], ["108", 6.24, 0.97], ["108", 5.93, 1.22], ["108", 5.62, 1.7], ["108", 5.31, 1.34], ["108", 4.64, 1.95], ["108", 4.23, 1.95], ["108", 3.87, 0.12], ["108", 3.71, 0.0], ["108", 4.49, -2.07], ["108", 4.64, -2.43], ["108", 5.05, -4.38], ["108", 5.72, -3.16], ["108", 6.03, -2.19], ["108", 6.24, -2.19], ["108", 6.44, -2.68], ["108", 6.65, -1.95], ["108", 6.75, -3.16], ["108", 6.34, -3.65], ["108", 6.54, -4.38], ["108", 6.65, -4.86], ["108", 5.93, -3.4], ["108", 7.37, -3.4], ["108", 7.57, -3.65], ["108", 7.78, -3.16], ["108", 7.99, -2.92], ["108", 8.19, -3.4], ["108", 8.4, -4.13], ["108", 8.6, -4.62], ["108", 8.81, -4.38], ["108", 9.01, -3.16], ["108", 9.22, -3.4], ["108", 9.01, -4.13], ["108", 9.43, -3.65], ["108", 9.32, -4.62], ["108", 8.81, -5.11], ["108", 8.91, -6.08], ["108", 8.71, -6.33], ["108", 8.19, -1.95], ["108", 8.29, -1.22], ["108", 7.68, -0.73], ["108", 7.47, -1.22], ["108", 8.6, -1.22], ["108", 9.58, 0.61], ["108", 10.04, -0.73], ["108", 10.15, -2.92], ["108", 10.45, -3.16], ["108", 10.66, -2.92], ["108", 10.87, -3.4], ["108", 11.07, -3.89], ["108", 11.07, -2.19], ["108", 11.07, -3.53], ["108", 10.87, -4.62], ["108", 11.17, -4.99], ["108", 10.35, -6.08], ["108", 10.97, -6.08], ["108", 10.25, 0.0], ["108", 10.66, -0.24], ["108", 8.19, -4.62], ["108", 7.57, -4.62], ["108", 7.99, -4.13], ["108", 5.41, -1.22], ["108", 5.31, -0.73], ["108", 7.16, -4.62], ["108", 7.37, -4.13], ["108", 6.96, -3.65], ["108", 9.53, -2.92], ["108", 9.84, -2.19], ["108", 8.6, -2.68], ["108", 7.99, -2.19], ["108", 7.37, -2.43], ["108", 7.06, -1.7], ["108", 9.01, -1.7], ["108", 6.13, -0.24], ["108", 6.54, -0.73],
  ["108", 5.4, 2.0], ["108", 5.8, 2.3], ["108", 6.5, 1.9], ["108", 6.9, 2.4], ["108", 7.5, 1.6], ["108", 7.9, 2.1], ["108", 8.5, 1.0], ["108", 9.0, 0.5], ["108", 9.5, -0.2], ["108", 9.9, 0.3], ["108", 10.5, -0.9], ["108", 11.0, -1.0], ["108", 10.8, -1.8], ["108", 10.2, -1.5], ["108", 9.6, -1.2], ["108", 9.2, -2.0], ["108", 8.7, -1.9], ["108", 8.3, -0.6], ["108", 7.8, -1.6], ["108", 7.2, -2.2], ["108", 6.8, -2.6], ["108", 6.4, -1.5], ["108", 6.0, -1.0], ["108", 5.6, -0.4], ["108", 5.1, 0.4], ["108", 4.8, 0.9], ["108", 4.4, 1.2], ["108", 4.1, 0.4], ["108", 5.0, -1.5], ["108", 5.4, -2.4], ["108", 5.9, -2.9], ["108", 6.3, -4.0], ["108", 6.9, -4.5], ["108", 7.3, -3.9], ["108", 7.7, -4.3], ["108", 8.1, -3.7], ["108", 8.5, -3.6], ["108", 8.9, -2.7], ["108", 9.3, -2.6], ["108", 9.7, -3.3], ["108", 10.1, -3.6], ["108", 10.5, -3.9], ["108", 10.9, -4.2], ["108", 11.3, -4.1], ["108", 11.2, -3.0], ["108", 9.9, -4.2], ["108", 9.5, -5.0], ["108", 9.0, -5.5], ["108", 8.5, -5.2], ["108", 8.0, -5.0], ["108", 7.6, -5.2], ["108", 7.0, -5.1], ["108", 6.5, -5.5], ["108", 10.6, -5.0], ["108", 11.0, -5.5],
  ["72", 4.85, -6.03], ["72", 5.16, -11.39], ["72", 10.81, -8.27], ["72", 11.07, -6.81],
  ["32", 4.07, 3.04], ["32", 3.77, 1.95], ["32", 3.87, 1.46], ["32", 4.18, 1.7], ["32", 3.97, 0.97], ["32", 3.66, 1.34], ["32", 3.61, -1.22], ["32", 3.92, -1.7], ["32", 4.07, -3.65], ["32", 4.33, -3.77], ["32", 10.2, 2.43], ["32", 11.53, 6.93], ["32", 9.48, -9.0], ["32", 9.63, -12.53], ["32", 4.33, -13.62], ["32", 10.04, 0.49], ["32", 10.87, -0.24], ["32", 11.28, -0.49], ["32", 11.95, -1.34], ["32", 12.26, -1.95], ["32", 9.63, -1.22], ["32", 8.6, 0.97], ["32", 9.22, -0.24], ["32", 10.66, -5.6], ["32", 10.45, -5.11], ["32", 4.69, 0.97],
  ["32", 3.6, 2.8], ["32", 3.8, 2.5], ["32", 4.0, 2.2], ["32", 3.7, 1.8], ["32", 3.9, 1.2], ["32", 4.2, 0.6], ["32", 3.6, 0.5], ["32", 3.8, 0.0], ["32", 4.1, -0.5], ["32", 4.4, 2.8], ["32", 4.6, 1.4], ["32", 3.6, -0.6], ["32", 4.3, -1.0], ["32", 4.5, -2.5], ["32", 3.75, -2.8], ["32", 4.2, -3.0], ["32", 9.9, -0.5], ["32", 10.3, -1.0], ["32", 10.7, -1.3], ["32", 11.1, -1.6], ["32", 11.6, -0.3], ["32", 12.0, -0.9], ["32", 9.5, 0.2], ["32", 10.6, 0.3], ["32", 11.3, 0.4],
  ["135", 9.43, -1.46], ["135", 11.69, -1.95],
  ["163", 6.32, 3.94], ["163", 4.38, -5.47], ["163", 4.43, 0.73], ["163", 4.9, -0.24], ["163", 5.31, -1.22], ["163", 5.62, -2.19], ["163", 6.44, 0.49], ["163", 6.75, -0.73], ["163", 7.16, -1.22], ["163", 7.47, -2.19], ["163", 7.99, -1.22], ["163", 8.19, -2.68], ["163", 8.4, -1.7], ["163", 8.6, -0.73], ["163", 9.01, -2.19], ["163", 9.43, -1.22], ["163", 9.63, -0.73], ["163", 7.99, -5.6], ["163", 7.62, -6.33], ["163", 11.57, -7.59], ["163", 5.31, -2.31], ["163", 4.95, -3.65],
  ["163", 4.5, -1.0], ["163", 5.0, -1.5], ["163", 5.5, -0.5], ["163", 6.0, -1.5], ["163", 6.6, -2.0], ["163", 7.0, -3.0], ["163", 7.8, -3.8], ["163", 8.4, -3.2], ["163", 9.2, -1.6], ["163", 9.8, -2.6], ["163", 10.2, -1.8], ["163", 6.2, -2.6], ["163", 5.8, -3.0], ["163", 4.7, -2.2], ["163", 4.1, -1.3], ["163", 3.8, -0.9],
  ["37", 5.21, 1.1], ["37", 5.52, 1.22], ["37", 5.93, -0.24], ["37", 6.44, -0.73], ["37", 6.96, -0.24], ["37", 7.16, -0.73], ["37", 7.47, 0.24], ["37", 8.81, 1.34], ["37", 8.04, -6.98], ["37", 5.93, 0.49], ["37", 6.75, 0.24], ["37", 7.26, -1.22], ["37", 9.12, -0.24],
  ["37", 5.6, 0.2], ["37", 6.2, 0.6], ["37", 6.6, -0.2], ["37", 7.8, 0.0], ["37", 8.2, 0.6], ["37", 8.6, -0.5], ["37", 9.4, -0.6], ["37", 10.0, -0.5], ["37", 10.8, -0.2], ["37", 5.0, 1.0], ["37", 5.8, 1.8],
  ["19", 4.49, 3.85], ["19", 5.0, 1.7], ["19", 6.6, 2.24], ["19", 6.08, -4.21], ["19", 6.39, -6.03], ["19", 7.14, -4.33], ["19", 7.52, -7.05], ["19", 8.86, -7.05], ["19", 10.76, -6.33], ["19", 10.35, -5.6], ["19", 10.56, -4.13], ["19", 5.41, -3.16], ["19", 5.2, -1.0], ["19", 6.0, -2.2], ["19", 7.0, -0.8], ["19", 4.8, 2.4],
  ["23", 5.1, -2.43], ["23", 5.67, -2.19], ["23", 6.65, -5.84], ["23", 7.14, -6.69], ["23", 6.85, -3.65], ["23", 6.44, -3.16], ["23", 5.3, -2.0], ["23", 6.0, -2.8], ["23", 7.5, -4.0],
  ["16", 3.92, -3.16], ["16", 5.88, -4.86], ["16", 7.32, -6.08], ["16", 7.88, -7.42], ["16", 9.37, -6.81], ["16", 11.17, -9.49], ["16", 7.57, -11.14], ["16", 6.7, -13.43], ["16", 7.26, 1.34],
];

// ---------- Δ cadence: regression lines ----------
const cadenceFitsDown: [string, number, number][] = [
  ["15", 7.66, -4.0], ["12", -8.64, 3.6], ["154", -3.1, -0.1], ["37", -3.8, -0.3], ["32", -3.5, 0.7], ["135", -3.4, 0.4], ["108", -3.65, 0.1],
];
const cadenceFitsUp: [string, number, number][] = [
  ["37", 0.0, -2.4], ["32", -0.1, -2.75], ["135", 0.1, -2.6], ["163", -0.4, -3.95], ["72", -0.85, -4.8], ["19", -0.3, -6.57], ["23", -0.6, -7.05], ["16", -0.2, -8.0],
];

const fmt = (v: number) => (v < 0 ? "\u2212" + Math.abs(v) : String(v));

const inwardTicks = {
  id: "inwardTicks",
  afterDraw(chart: any) {
    const { ctx, chartArea, scales } = chart;
    ctx.save();
    ctx.strokeStyle = "#8c8c8c";
    ctx.lineWidth = 1;
    for (const t of scales.x.ticks) {
      const px = Math.round(scales.x.getPixelForValue(t.value)) + 0.5;
      ctx.beginPath();
      ctx.moveTo(px, chartArea.bottom);
      ctx.lineTo(px, chartArea.bottom - 9);
      ctx.stroke();
    }
    for (const t of scales.y.ticks) {
      const py = Math.round(scales.y.getPixelForValue(t.value)) + 0.5;
      ctx.beginPath();
      ctx.moveTo(chartArea.left, py);
      ctx.lineTo(chartArea.left + 9, py);
      ctx.stroke();
    }
    ctx.restore();
  },
};

type PanelCfg = {
  grey: [number, number][];
  colored: [string, number, number][];
  fitsDown: [string, number, number][];
  fitsUp: [string, number, number][];
  yMin: number;
  yMax: number;
  yTicks: number[];
  yTitle: string;
  padTop: number;
  xAxisHeight: number;
  xTitlePadBottom: number;
  yTitlePadTop: number;
};

function buildConfig(p: PanelCfg): any {
  const datasets: any[] = [];
  datasets.push({
    data: p.grey.map(([x, y]) => ({ x, y })),
    pointRadius: 5.3,
    pointBorderWidth: 1.3,
    pointBorderColor: "#707070",
    pointBackgroundColor: "rgba(0,0,0,0)",
    showLine: false,
    order: 1000,
  });
  datasets.push({
    data: [{ x: -15, y: 0 }, { x: 15, y: 0 }],
    showLine: true,
    borderColor: "#1a1a1a",
    borderWidth: 1.6,
    borderDash: [7, 5],
    pointRadius: 0,
    order: 900,
  });
  subjectIds.forEach((id, i) => {
    const pts = p.colored.filter((c) => c[0] === id).map((c) => ({ x: c[1], y: c[2] }));
    if (pts.length) {
      datasets.push({
        data: pts,
        pointRadius: 5.8,
        pointBackgroundColor: subjectColors[i],
        pointBorderColor: subjectColors[i],
        pointBorderWidth: 0.5,
        showLine: false,
        order: 500 - i,
      });
    }
  });
  const groups: [[string, number, number][], number[]][] = [
    [p.fitsDown, downhillFitRange],
    [p.fitsUp, uphillFitRange],
  ];
  for (const [fits, range] of groups) {
    fits.forEach(([id, y0, y1]) => {
      const i = subjectIds.indexOf(id);
      datasets.push({
        data: [{ x: range[0], y: y0 }, { x: range[1], y: y1 }],
        showLine: true,
        borderColor: subjectColors[i],
        borderWidth: 3,
        pointRadius: 0,
        order: 100 - i,
      });
    });
  }
  return {
    type: "scatter",
    data: { datasets },
    plugins: [inwardTicks],
    options: {
      animation: false,
      responsive: false,
      maintainAspectRatio: false,
      events: [],
      layout: { padding: { top: p.padTop, right: 75, left: 0, bottom: 0 } },
      plugins: { legend: { display: false }, tooltip: { enabled: false } },
      scales: {
        x: {
          type: "linear",
          min: -15,
          max: 15,
          afterBuildTicks: (s: any) => {
            s.ticks = gradientTicks.map((v) => ({ value: v }));
          },
          afterFit: (s: any) => {
            s.height = p.xAxisHeight;
            s.paddingLeft = 0;
            s.paddingRight = 0;
          },
          grid: { display: false, drawTicks: false },
          border: { display: true, color: "#8c8c8c", width: 1.2 },
          ticks: { padding: 12, color: "#262626", font: { family: FONT, size: 30 }, callback: (v: any) => fmt(Number(v)), maxRotation: 0, autoSkip: false },
          title: { display: true, text: "Gradient (%)", color: "#262626", font: { family: FONT, size: 30 }, padding: { top: 0, bottom: p.xTitlePadBottom } },
        },
        y: {
          type: "linear",
          min: p.yMin,
          max: p.yMax,
          afterBuildTicks: (s: any) => {
            s.ticks = p.yTicks.map((v) => ({ value: v }));
          },
          afterFit: (s: any) => {
            s.width = 118;
            s.paddingTop = 0;
            s.paddingBottom = 0;
          },
          grid: { display: false, drawTicks: false },
          border: { display: true, color: "#8c8c8c", width: 1.2 },
          ticks: { padding: 14, color: "#262626", font: { family: FONT, size: 30 }, callback: (v: any) => fmt(Number(v)), autoSkip: false },
          title: { display: true, text: p.yTitle, color: "#262626", font: { family: FONT, size: 33 }, padding: { top: p.yTitlePadTop, bottom: 0 } },
        },
      },
    },
  };
}

const speedPanel: PanelCfg = {
  grey: speedGrey,
  colored: speedColored,
  fitsDown: speedFitsDown,
  fitsUp: speedFitsUp,
  yMin: -3.5,
  yMax: 3.5,
  yTicks: speedTicks,
  yTitle: "\u0394 speed (m/s)",
  padTop: 10,
  xAxisHeight: 108,
  xTitlePadBottom: 18,
  yTitlePadTop: 27,
};

const cadencePanel: PanelCfg = {
  grey: cadenceGrey,
  colored: cadenceColored,
  fitsDown: cadenceFitsDown,
  fitsUp: cadenceFitsUp,
  yMin: -15,
  yMax: 15,
  yTicks: cadenceTicks,
  yTitle: "\u0394 cadence (steps/minute)",
  padTop: 25,
  xAxisHeight: 105,
  xTitlePadBottom: 15,
  yTitlePadTop: 8,
};

const legendColumnsX = [43, 273, 502, 723, 945];

export default function App() {
  const ref1 = useRef<HTMLCanvasElement | null>(null);
  const ref2 = useRef<HTMLCanvasElement | null>(null);

  useEffect(() => {
    document.body.style.margin = "0";
    document.body.style.background = "#ffffff";
    const c1 = new Chart(ref1.current as HTMLCanvasElement, buildConfig(speedPanel));
    const c2 = new Chart(ref2.current as HTMLCanvasElement, buildConfig(cadencePanel));
    return () => {
      c1.destroy();
      c2.destroy();
    };
  }, []);

  return (
    <div style={{ position: "relative", width: 1165, height: 1318, background: "#fff", overflow: "hidden" }}>
      <canvas ref={ref1} width={1165} height={530} style={{ position: "absolute", left: 0, top: 0, width: 1165, height: 530 }} />
      <canvas ref={ref2} width={1165} height={540} style={{ position: "absolute", left: 0, top: 560, width: 1165, height: 540 }} />
      {subjectIds.map((id, k) => {
        const col = Math.floor(k / 4);
        const row = k % 4;
        const x = legendColumnsX[col];
        const y = 1172 + row * 44.7;
        return (
          <div key={id} style={{ position: "absolute", left: x, top: y - 14, height: 28, display: "flex", alignItems: "center" }}>
            <div style={{ width: 126, height: 4, background: subjectColors[k] }} />
            <span style={{ marginLeft: 12, fontFamily: FONT, fontSize: 17.5, color: "#333", whiteSpace: "nowrap" }}>{"Sub " + id}</span>
          </div>
        );
      })}
    </div>
  );
}
